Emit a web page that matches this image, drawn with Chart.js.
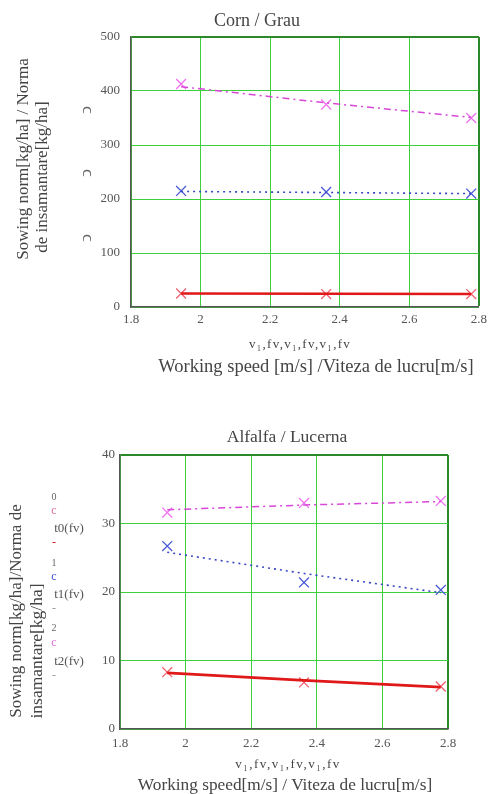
<!DOCTYPE html>
<html>
<head>
<meta charset="utf-8">
<script src="https://cdn.jsdelivr.net/npm/chart.js@4/dist/chart.umd.min.js"></script>
<style>
  html, body { margin:0; padding:0; background:#fff; }
  #wrap { position:relative; width:492px; height:794px; overflow:hidden; font-family:"Liberation Serif","DejaVu Serif",serif; }
  canvas { position:absolute; left:0; }
  .t { position:absolute; white-space:nowrap; transform:translate(-50%,-50%); color:#444; line-height:1; }
  .r { transform:translate(-50%,-50%) rotate(-90deg); }
</style>
</head>
<body>
<div id="wrap">
  <canvas id="c1" width="492" height="400" style="top:0"></canvas>
  <canvas id="c2" width="492" height="394" style="top:400px"></canvas>

  <div class="t" style="left:257px;top:20px;font-size:18px;">Corn / Grau</div>
  <div class="t r" style="left:22px;top:159px;font-size:17px;">Sowing norm[kg/ha] / Norma</div>
  <div class="t r" style="left:41px;top:177px;font-size:17px;">de insamantare[kg/ha]</div>
  <div class="t r" style="left:85px;top:110px;font-size:17px;color:#666;">ↄ</div>
  <div class="t r" style="left:85px;top:173px;font-size:17px;color:#666;">ↄ</div>
  <div class="t r" style="left:85px;top:238px;font-size:17px;color:#666;">ↄ</div>
  <div class="t" style="left:300px;top:343px;font-size:13px;letter-spacing:1.3px;">v₁,fv,v₁,fv,v₁,fv</div>
  <div class="t" style="left:316px;top:366px;font-size:18.5px;">Working speed [m/s] /Viteza de lucru[m/s]</div>

  <div class="t" style="left:287px;top:437px;font-size:17.5px;">Alfalfa / Lucerna</div>
  <div class="t r" style="left:15px;top:611px;font-size:17px;">Sowing norm[kg/ha]/Norma de</div>
  <div class="t r" style="left:37px;top:651px;font-size:17.5px;">insamantare[kg/ha]</div>
  <div class="t" style="left:54px;top:497px;font-size:10px;color:#666;">0</div>
  <div class="t" style="left:54px;top:510px;font-size:12px;color:#e070a0;">c</div>
  <div class="t" style="left:69px;top:527px;font-size:13px;color:#555;">t0(fv)</div>
  <div class="t" style="left:54px;top:542px;font-size:12px;color:#d02020;">-</div>
  <div class="t" style="left:54px;top:563px;font-size:10px;color:#666;">1</div>
  <div class="t" style="left:54px;top:576px;font-size:12px;color:#4050d0;">c</div>
  <div class="t" style="left:69px;top:593px;font-size:13px;color:#555;">t1(fv)</div>
  <div class="t" style="left:54px;top:608px;font-size:12px;color:#999;">-</div>
  <div class="t" style="left:54px;top:628px;font-size:10px;color:#666;">2</div>
  <div class="t" style="left:54px;top:642px;font-size:12px;color:#e070e0;">c</div>
  <div class="t" style="left:69px;top:660px;font-size:13px;color:#555;">t2(fv)</div>
  <div class="t" style="left:54px;top:675px;font-size:12px;color:#999;">-</div>
  <div class="t" style="left:288px;top:763px;font-size:13px;letter-spacing:1.5px;">v₁,fv,v₁,fv,v₁,fv</div>
  <div class="t" style="left:285px;top:785px;font-size:17.3px;">Working speed[m/s] / Viteza de lucru[m/s]</div>
</div>
<script>
// Working speeds [m/s]
const speeds = [1.944, 2.361, 2.778];

// Corn / Grau
const cornT0Meas = [25, 24, 24];
const cornT0Fit  = [25, 24.5, 24];
const cornT1Meas = [215, 213, 210];
const cornT1Fit  = [214, 212, 210];
const cornT2Meas = [413, 375, 350];
const cornT2Fit  = [408, 378, 351];

// Alfalfa / Lucerna
const alfT0Meas = [8.3, 6.8, 6.2];
const alfT0Fit  = [8.2, 7.1, 6.1];
const alfT1Meas = [26.7, 21.4, 20.3];
const alfT1Fit  = [25.8, 22.7, 19.9];
const alfT2Meas = [31.6, 33.0, 33.3];
const alfT2Fit  = [32.0, 32.7, 33.2];

const xTicks = [1.8, 2, 2.2, 2.4, 2.6, 2.8];
const cornYTicks = [0, 100, 200, 300, 400, 500];
const alfYTicks = [0, 10, 20, 30, 40];

const pts = (vals) => speeds.map((x, i) => ({x, y: vals[i]}));

function lineDs(vals, color, width, dash) {
  return { data: pts(vals), showLine: true, borderColor: color, borderWidth: width,
           borderDash: dash, pointRadius: 0, fill: false, tension: 0 };
}
function markDs(vals, color) {
  return { data: pts(vals), showLine: false, pointStyle: 'crossRot', pointRadius: 7,
           pointBorderColor: color, pointBorderWidth: 1.3, borderColor: color, backgroundColor: color };
}

const GREEN = '#3cd03c';
const EDGE = '#2a8a2a';
const FONT = {family: '"Liberation Serif", serif', size: 13};

function makeChart(id, cfg) {
  const yT = cfg.yTicks;
  const yMax = yT[yT.length - 1];
  return new Chart(document.getElementById(id), {
    type: 'scatter',
    data: { datasets: cfg.datasets },
    options: {
      responsive: false, animation: false, devicePixelRatio: 1,
      layout: { padding: { left: 0, right: cfg.padRight, top: cfg.padTop, bottom: 0 } },
      plugins: { legend: { display: false }, title: { display: false }, tooltip: { enabled: false } },
      scales: {
        x: {
          type: 'linear', min: xTicks[0], max: xTicks[xTicks.length - 1],
          afterBuildTicks: s => { s.ticks = xTicks.map(v => ({value: v})); },
          ticks: { font: FONT, color: '#555', padding: cfg.xPad, maxRotation: 0,
                   callback: v => String(Math.round(v * 10) / 10) },
          grid: { drawTicks: false,
                  color: c => (c.tick && Math.abs(c.tick.value - 2.8) < 1e-6) ? EDGE : GREEN,
                  lineWidth: c => (c.tick && Math.abs(c.tick.value - 2.8) < 1e-6) ? 2 : 1 },
          border: { color: '#555', width: 1.5 },
          afterFit: s => { s.height = cfg.xHeight; }
        },
        y: {
          type: 'linear', min: 0, max: yMax,
          afterBuildTicks: s => { s.ticks = yT.map(v => ({value: v})); },
          ticks: { font: FONT, color: '#555', padding: cfg.yPad },
          grid: { drawTicks: false,
                  color: c => (c.tick && c.tick.value === yMax) ? EDGE : GREEN,
                  lineWidth: c => (c.tick && c.tick.value === yMax) ? 2 : 1 },
          border: { color: '#555', width: 1.5 },
          afterFit: s => { s.width = cfg.yWidth; }
        }
      }
    }
  });
}

makeChart('c1', {
  yTicks: cornYTicks, padRight: 11, padTop: 37, xHeight: 93, yWidth: 131, xPad: 5, yPad: 11,
  datasets: [
    lineDs(cornT0Fit, '#e01818', 2.5, []),
    lineDs(cornT1Fit, '#3848c0', 1.6, [2, 4]),
    lineDs(cornT2Fit, '#d848d8', 1.5, [7, 4, 2, 4]),
    markDs(cornT0Meas, '#f06070'),
    markDs(cornT1Meas, '#4858d8'),
    markDs(cornT2Meas, '#f070f0')
  ]
});

makeChart('c2', {
  yTicks: alfYTicks, padRight: 44, padTop: 55, xHeight: 65, yWidth: 120, xPad: 7, yPad: 5,
  datasets: [
    lineDs(alfT0Fit, '#e01818', 2.8, []),
    lineDs(alfT1Fit, '#3848c0', 1.6, [2, 4]),
    lineDs(alfT2Fit, '#d848d8', 1.5, [7, 4, 2, 4]),
    markDs(alfT0Meas, '#f06070'),
    markDs(alfT1Meas, '#4858d8'),
    markDs(alfT2Meas, '#f070f0')
  ]
});
</script>
</body>
</html>
